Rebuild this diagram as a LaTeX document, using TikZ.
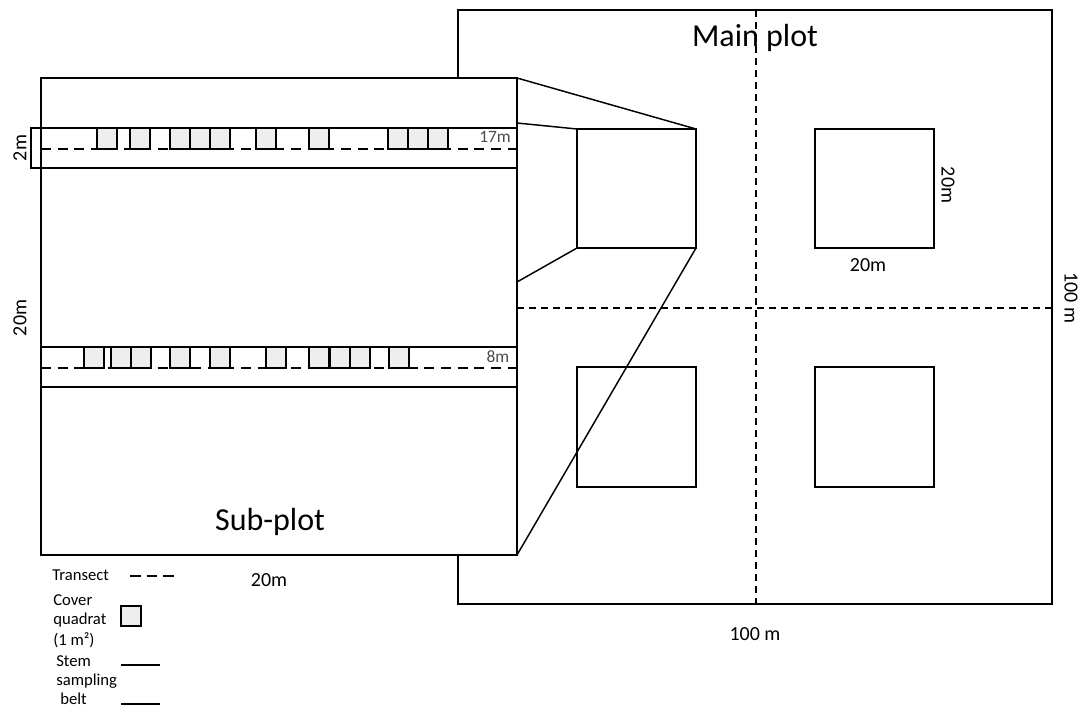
\documentclass[tikz,border=0pt]{standalone}
\usepackage{fontspec}
\setmainfont{Carlito}
\begin{document}
\begin{tikzpicture}[x=0.75pt,y=-0.75pt,
  outline/.style={draw=black,line width=1.1pt},
  thinline/.style={draw=black,line width=1.1pt},
  griddash/.style={draw=black,line width=0.9pt,dash pattern=on 5.5pt off 3.5pt},
  transect/.style={draw=black,line width=1.9pt,dash pattern=on 7.5pt off 5pt},
  quadrat/.style={draw=black,fill=gray!13,line width=1.1pt},
  big/.style={font=\fontsize{24}{28}\selectfont,inner sep=0pt},
  mid/.style={font=\fontsize{15}{18}\selectfont,inner sep=0pt},
  tiny/.style={font=\fontsize{13}{15}\selectfont,text=black!70,inner sep=0pt},
  legtext/.style={font=\fontsize{12.5}{15}\selectfont,inner sep=0pt,anchor=west}
]
\useasboundingbox[fill=white] (0,0) rectangle (1086,709);

% ---- main plot ----
\draw[outline] (458,10) rectangle (1052,604);
\coordinate (mainTop) at (756,10);
\coordinate (mainBot) at (756,604);
\coordinate (mainRight) at (1052,308);
\coordinate (mainMidL) at (517,308);
\draw[griddash] (mainTop) -- (mainBot);
\draw[griddash] (mainMidL) -- (mainRight);

% sample squares in main plot
\draw[outline] (577,129) coordinate (sqAnw) rectangle (696,248) coordinate (sqAse);
\coordinate (sqAne) at (696,129);
\coordinate (sqAsw) at (577,248);
\draw[outline] (815,129) rectangle (934,248);
\draw[outline] (577,367) rectangle (696,487);
\draw[outline] (815,367) rectangle (934,487);

% ---- sub-plot ----
\draw[outline,fill=white] (41,78) coordinate (subNW) rectangle (517,555) coordinate (subSE);
\coordinate (subNE) at (517,78);
\coordinate (subA) at (517,123);
\coordinate (subB) at (517,282);

% projection lines
\draw[thinline] (subNE) -- (sqAne);
\draw[thinline] (subA) -- (sqAnw);
\draw[thinline] (subB) -- (sqAsw);
\draw[thinline] (subSE) -- (sqAse);

% belts
\draw[outline] (31,128) rectangle (517,168);
\draw[outline] (41,347) rectangle (517,387);

% quadrats upper
\foreach \x in {97,130,170,190,210,256,309,388,408,428}
  \draw[quadrat] (\x,128) rectangle ++(20,21);
% quadrats lower
\foreach \x in {84,111,131,170,210,266,309,330,350,389}
  \draw[quadrat] (\x,347) rectangle ++(20,21);

% transects
\coordinate (tAL) at (41,149); \coordinate (tAR) at (517,149);
\coordinate (tBL) at (41,368); \coordinate (tBR) at (517,368);
\draw[transect] (tAL) -- (tAR);
\draw[transect] (tBL) -- (tBR);

% labels
\node[big] (lmain) at (755,38) {Main plot};
\node[big] (lsub) at (270,522) {Sub-plot};
\node[tiny] (l17) at (495,137) {17m};
\node[tiny] (l8) at (498,357) {8m};
\node[mid,rotate=90] (l2m) at (20,148) {2m};
\node[mid,rotate=90] (l20a) at (20,318) {20m};
\node[mid] (l20b) at (269,580) {20m};
\node[mid,rotate=-90] (l20c) at (948,185) {20m};
\node[mid] (l20d) at (868,265) {20m};
\node[mid] (l100a) at (755,634) {100 m};
\node[mid,rotate=-90] (l100b) at (1071,298) {100 m};

% legend
\node[legtext] (lgT) at (52,575) {Transect};
\coordinate (lgTa) at (130,576); \coordinate (lgTb) at (175,576);
\draw[line width=1.9pt,dash pattern=on 8pt off 4.5pt] (lgTa) -- (lgTb);
\node[legtext] (lgC1) at (53,600) {Cover};
\node[legtext] (lgC2) at (53,620) {quadrat};
\node[legtext] (lgC3) at (53,640) {(1 m²)};
\draw[quadrat] (121,606) rectangle (141,626);
\node[legtext] (lgS1) at (56,661) {Stem};
\node[legtext] (lgS2) at (56,681) {sampling};
\node[legtext] (lgS3) at (60,699) {belt};
\coordinate (lgSa) at (121,665); \coordinate (lgSb) at (160,665);
\coordinate (lgSc) at (121,704); \coordinate (lgSd) at (160,704);
\draw[line width=1.1pt] (lgSa) -- (lgSb);
\draw[line width=1.1pt] (lgSc) -- (lgSd);
\end{tikzpicture}
\end{document}
